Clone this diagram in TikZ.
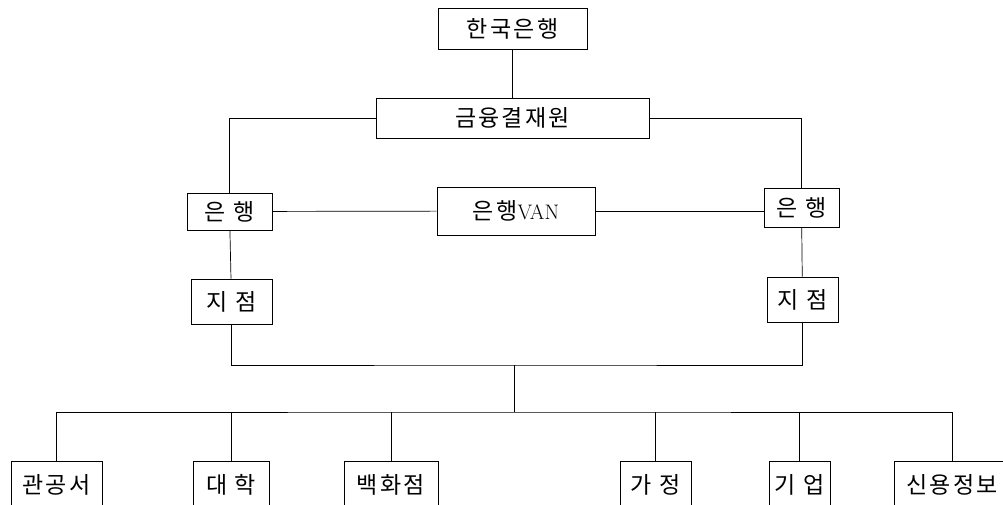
\documentclass[tikz,border=0pt]{standalone}
\usepackage{fontspec}
\usepackage{tikz}
\usetikzlibrary{calc}
\newfontfamily\kr[LetterSpace=10]{Noto Sans CJK KR}

\tikzset{
    orgbox/.style={draw, line width=0.7pt, inner sep=0pt, align=center,
        font=\fontsize{23}{26}\selectfont\kr},
    link/.style={line width=0.7pt}
}

\begin{document}
\begin{tikzpicture}[x=1pt, y=-1pt]
    % Frame
    \useasboundingbox (0,0) rectangle (1003,505);
    \clip (0,0) rectangle (1003,505);

    % Top of the network
    \node[orgbox, minimum width=149, minimum height=41] (bok) at (512.5,28.5) {한국은행};
    \node[orgbox, minimum width=273, minimum height=40] (kftc) at (512.5,118) {금융결재원};
    \draw[link] (bok) -- (kftc);

    % Banks and VAN
    \node[orgbox, minimum width=85, minimum height=37] (bankL) at (229.5,211.5) {은 행};
    \node[orgbox, minimum width=158, minimum height=48] (van) at (516,211) {은행{\fontsize{21}{24}\selectfont\rmfamily VAN}};
    \node[orgbox, minimum width=75, minimum height=39] (bankR) at (801.5,207.5) {은 행};
    \draw[link] (kftc.west) -| (bankL.north);
    \draw[link] (kftc.east) -| (bankR.north);
    \draw[link] (bankL) -- (van);
    \draw[link] (van) -- (bankR.west |- van);

    % Branches
    \node[orgbox, minimum width=81, minimum height=45] (branchL) at (231.5,301.5) {지 점};
    \node[orgbox, minimum width=71, minimum height=45] (branchR) at (802.5,299.5) {지 점};
    \draw[link] (bankL) -- (branchL);
    \draw[link] (bankR) -- (branchR);

    % Buses
    \coordinate (bus1) at (514,365);
    \coordinate (bus2) at (514,412);
    \draw[link] (branchL.south) |- (bus1) -| (branchR.south);
    \draw[link] (bus1) -- (bus2);

    % Users
    \node[orgbox, minimum width=91, minimum height=48] (gov) at (56.5,485) {관공서};
    \node[orgbox, minimum width=76, minimum height=48] (univ) at (231,485) {대 학};
    \node[orgbox, minimum width=94, minimum height=48] (dept) at (391,485) {백화점};
    \node[orgbox, minimum width=71, minimum height=48] (home) at (655.5,485) {가 정};
    \node[orgbox, minimum width=61, minimum height=48] (corp) at (799.5,485) {기 업};
    \node[orgbox, minimum width=116, minimum height=48] (credit) at (952,485) {신용정보};
    \draw[link] (gov.north) |- (bus2) -| (credit.north);
    \foreach \u in {univ, dept, home, corp}
        \draw[link] (\u.north) -- (\u.north |- bus2);
\end{tikzpicture}
\end{document}
